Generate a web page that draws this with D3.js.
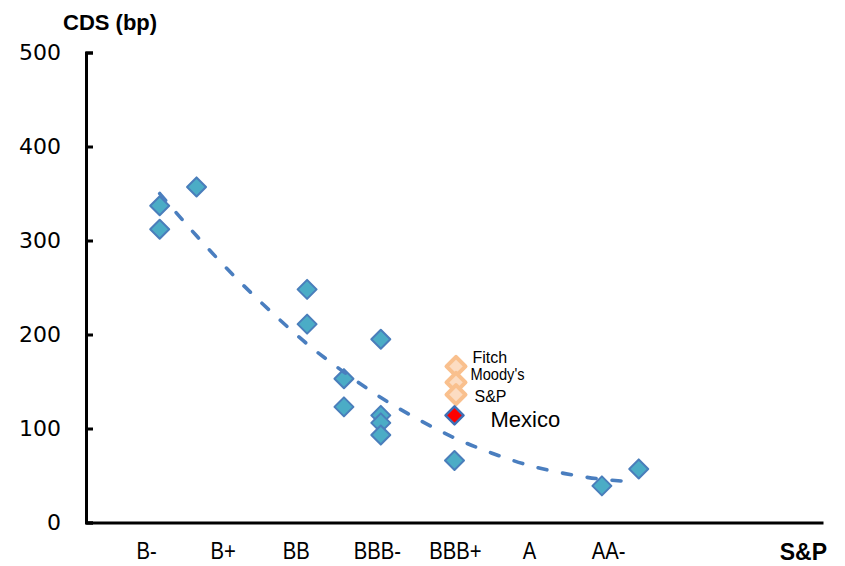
<!DOCTYPE html>
<html>
<head>
<meta charset="utf-8">
<script src="https://cdn.jsdelivr.net/npm/d3@7"></script>
<style>
  html, body { margin: 0; padding: 0; background: #ffffff; }
  svg { display: block; }
</style>
</head>
<body>
<svg id="chart" width="845" height="566"></svg>
<script>
// ---- Data (x = rating notch index: B-=0, B=1, B+=2, BB-=3, BB=4, BB+=5, BBB-=6, BBB=7, BBB+=8, A-=9, A=10, A+=11, AA-=12, AA=13)
const peerNotch = [0, 0, 1, 4, 4, 5, 5, 6, 6, 6, 6, 8, 12, 13];
const peerCDS   = [337, 312, 357, 248, 211, 153, 123, 195, 114, 106, 93, 66, 39, 57];

const mexicoNotch = 8;
const mexicoCDS = 114;

const agencyNames = ["Fitch", "Moody's", "S&P"];
const agencyNotch = [8, 8, 8];
const agencyCDS   = [166, 149, 136];

// Trend line
const trendNotch = [0, 1, 2, 3, 4, 5, 6, 7, 8, 9, 10, 11, 12, 12.6];
const trendCDS   = [350, 305, 263, 225, 190, 160, 133, 110, 90, 74, 61, 52, 46, 44];

// x-axis tick labels and where they sit on the notch scale
const xTickLabels = ["B-", "B+", "BB", "BBB-", "BBB+", "A", "AA-"];
const xTickPos    = [-0.37, 1.71, 3.69, 5.89, 8.01, 10.02, 12.17];

const yTicks = [0, 100, 200, 300, 400, 500];

// ---- Chart
const svg = d3.select("#chart");
svg.append("rect").attr("width", 845).attr("height", 566).attr("fill", "#fff");

const x = d3.scaleLinear().domain([-2, 18]).range([86, 823]);
const y = d3.scaleLinear().domain([0, 500]).range([522.5, 52.5]);

// Y axis
const yAxis = d3.axisLeft(y)
  .tickValues(yTicks)
  .tickSizeInner(-7)
  .tickSizeOuter(-7)
  .tickPadding(25)
  .tickFormat(d3.format("d"));

const gy = svg.append("g").attr("transform", `translate(${x(-2)},0)`).call(yAxis);
gy.select(".domain").attr("stroke", "#000").attr("stroke-width", 3).attr("fill", "none");
gy.selectAll(".tick line").attr("stroke", "#000").attr("stroke-width", 3);
gy.selectAll(".tick text")
  .attr("font-family", "'DejaVu Sans', sans-serif")
  .attr("font-size", 22)
  .attr("fill", "#000");

// X axis
const xAxis = d3.axisBottom(x)
  .tickValues(xTickPos)
  .tickSize(0)
  .tickPadding(0)
  .tickFormat((d, i) => xTickLabels[i]);

const gx = svg.append("g").attr("transform", `translate(0,${y(0)})`).call(xAxis);
gx.select(".domain").attr("stroke", "#000").attr("stroke-width", 3);
gx.selectAll(".tick text")
  .attr("font-family", "'Liberation Sans', Arial, sans-serif")
  .attr("font-size", 23)
  .attr("fill", "#000")
  .attr("dy", null)
  .attr("y", 37)
  .attr("transform", "scale(0.88,1)");

// Axis titles
svg.append("text")
  .attr("x", 63).attr("y", 29.5)
  .attr("font-family", "'Liberation Sans', Arial, sans-serif")
  .attr("font-weight", "bold")
  .attr("font-size", 22)
  .text("CDS (bp)");

svg.append("text")
  .attr("x", 827).attr("y", 560)
  .attr("text-anchor", "end")
  .attr("font-family", "'Liberation Sans', Arial, sans-serif")
  .attr("font-weight", "bold")
  .attr("font-size", 23)
  .text("S&P");

// Diamond path helper
const diamond = r => `M0,${-r}L${r},0L0,${r}L${-r},0Z`;

// Peer points
svg.append("g").selectAll("path")
  .data(peerNotch.map((n, i) => ({ n, v: peerCDS[i] })))
  .join("path")
  .attr("d", diamond(9.5))
  .attr("transform", d => `translate(${x(d.n)},${y(d.v)})`)
  .attr("fill", "#4bacc6")
  .attr("stroke", "#4a7ebb")
  .attr("stroke-width", 2)
  .attr("stroke-linejoin", "round");

// Trend line
const line = d3.line()
  .x((d, i) => x(trendNotch[i]))
  .y(d => y(d))
  .curve(d3.curveMonotoneX);

svg.append("path")
  .datum(trendCDS)
  .attr("d", line)
  .attr("fill", "none")
  .attr("stroke", "#4a7ebf")
  .attr("stroke-width", 3.6)
  .attr("stroke-linecap", "round")
  .attr("stroke-dasharray", "9,16");

// Agency ratings (orange)
svg.append("g").selectAll("path")
  .data(agencyNotch.map((n, i) => ({ n, v: agencyCDS[i] })))
  .join("path")
  .attr("d", diamond(9.5))
  .attr("transform", d => `translate(${x(d.n) + 1.5},${y(d.v)})`)
  .attr("fill", "#fcdcc2")
  .attr("stroke", "#f9c08e")
  .attr("stroke-width", 4)
  .attr("stroke-linejoin", "round");

// label offsets (styling, px) so the three labels do not collide
const agencyLabelDx = [18, 16, 20];
const agencyLabelDy = [-3, -2.5, 7];

svg.append("g").selectAll("text")
  .data(agencyNames.map((name, i) => ({ name, n: agencyNotch[i], v: agencyCDS[i], i })))
  .join("text")
  .attr("x", d => x(d.n) + agencyLabelDx[d.i])
  .attr("y", d => y(d.v) + agencyLabelDy[d.i])
  .attr("font-family", "'Liberation Sans', Arial, sans-serif")
  .attr("font-size", 16)
  .attr("fill", "#000")
  .attr("textLength", d => d.name === "Moody's" ? 54 : null)
  .attr("lengthAdjust", "spacingAndGlyphs")
  .text(d => d.name);

// Mexico
svg.append("path")
  .attr("d", diamond(9))
  .attr("transform", `translate(${x(mexicoNotch)},${y(mexicoCDS)})`)
  .attr("fill", "#ff0000")
  .attr("stroke", "#3f6fb5")
  .attr("stroke-width", 2.5)
  .attr("stroke-linejoin", "round");

svg.append("text")
  .attr("x", x(mexicoNotch) + 36)
  .attr("y", y(mexicoCDS) + 12)
  .attr("font-family", "'Liberation Sans', Arial, sans-serif")
  .attr("font-size", 22)
  .attr("fill", "#000")
  .text("Mexico");
</script>
</body>
</html>
